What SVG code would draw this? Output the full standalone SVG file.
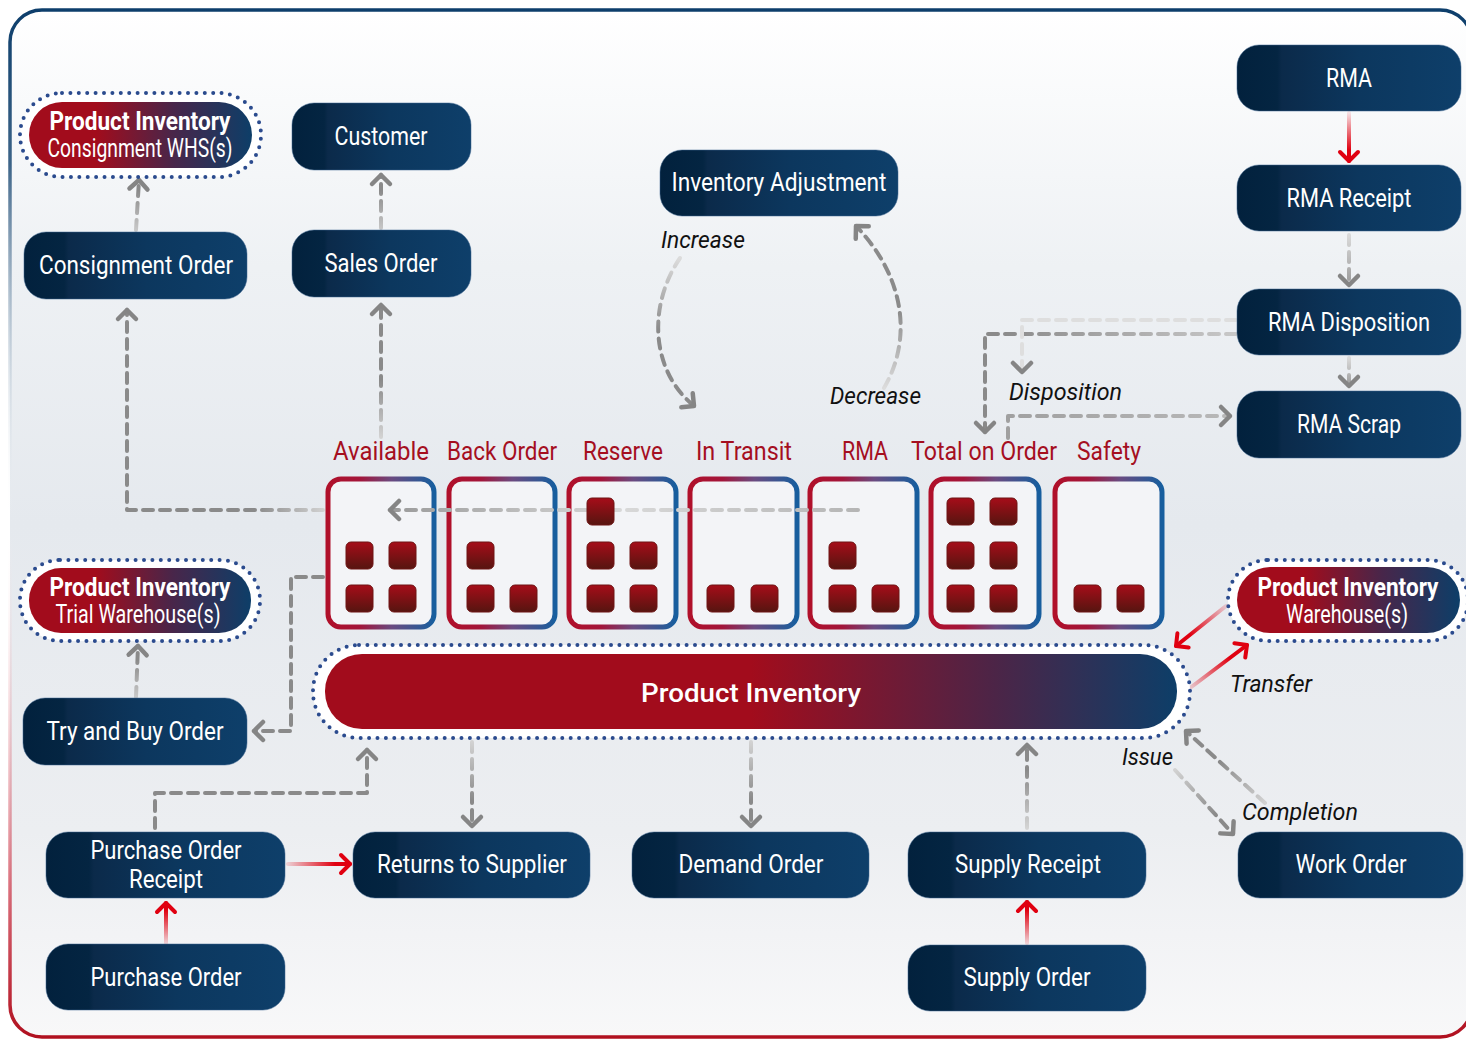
<svg xmlns="http://www.w3.org/2000/svg" width="1466" height="1039" viewBox="0 0 1466 1039">
<defs>
  <linearGradient id="bg" x1="0" y1="0" x2="0" y2="1">
    <stop offset="0" stop-color="#ffffff"/>
    <stop offset="0.25" stop-color="#eef1f4"/>
    <stop offset="0.5" stop-color="#e5e9ee"/>
    <stop offset="0.8" stop-color="#eceef1"/>
    <stop offset="1" stop-color="#f8f8f9"/>
  </linearGradient>
  <linearGradient id="frame" gradientUnits="userSpaceOnUse" x1="0" y1="10" x2="0" y2="1037">
    <stop offset="0" stop-color="#0d3e6b"/>
    <stop offset="0.15" stop-color="#0d3e6b" stop-opacity="0.8"/>
    <stop offset="0.5" stop-color="#ffffff" stop-opacity="0"/>
    <stop offset="0.85" stop-color="#c4162a" stop-opacity="0.6"/>
    <stop offset="1" stop-color="#b0101f"/>
  </linearGradient>
  <linearGradient id="nodeGrad" x1="0" y1="0" x2="1" y2="0">
    <stop offset="0" stop-color="#02213d"/>
    <stop offset="0.18" stop-color="#042542"/>
    <stop offset="0.2" stop-color="#0b2a4a"/>
    <stop offset="0.55" stop-color="#0c375e"/>
    <stop offset="1" stop-color="#0e3f6a"/>
  </linearGradient>
  <linearGradient id="pillGrad" x1="0" y1="0" x2="1" y2="0">
    <stop offset="0" stop-color="#a20c1c"/>
    <stop offset="0.3" stop-color="#a20c1c"/>
    <stop offset="0.65" stop-color="#48264a"/>
    <stop offset="1" stop-color="#0d3e68"/>
  </linearGradient>
  <linearGradient id="barGrad" x1="0" y1="0" x2="1" y2="0">
    <stop offset="0" stop-color="#a20c1c"/>
    <stop offset="0.5" stop-color="#a20c1c"/>
    <stop offset="0.78" stop-color="#4e2446"/>
    <stop offset="1" stop-color="#0d3e68"/>
  </linearGradient>
  <linearGradient id="binGrad" x1="0" y1="0" x2="1" y2="0">
    <stop offset="0" stop-color="#b0102a"/>
    <stop offset="0.3" stop-color="#a3153a"/>
    <stop offset="0.6" stop-color="#6a4a80"/>
    <stop offset="1" stop-color="#175e9e"/>
  </linearGradient>
  <linearGradient id="sqGrad" x1="0" y1="0" x2="0" y2="1">
    <stop offset="0" stop-color="#a60d19"/>
    <stop offset="1" stop-color="#561510"/>
  </linearGradient>
  <linearGradient id="fadeUp1" gradientUnits="userSpaceOnUse" x1="0" y1="437" x2="0" y2="380">
    <stop offset="0" stop-color="#d2d2d2"/><stop offset="1" stop-color="#8a8a8a"/>
  </linearGradient>
  <linearGradient id="fadeLeft1" gradientUnits="userSpaceOnUse" x1="325" y1="0" x2="255" y2="0">
    <stop offset="0" stop-color="#d2d2d2"/><stop offset="1" stop-color="#8a8a8a"/>
  </linearGradient>
  <linearGradient id="fadeRMAline" gradientUnits="userSpaceOnUse" x1="858" y1="0" x2="390" y2="0">
    <stop offset="0" stop-color="#b5b5b5"/><stop offset="0.5" stop-color="#d8d8d8"/><stop offset="1" stop-color="#9a9a9a"/>
  </linearGradient>
  <linearGradient id="fadeDown1" gradientUnits="userSpaceOnUse" x1="0" y1="742" x2="0" y2="800">
    <stop offset="0" stop-color="#d2d2d2"/><stop offset="1" stop-color="#8a8a8a"/>
  </linearGradient>
  <linearGradient id="fadeUp2" gradientUnits="userSpaceOnUse" x1="0" y1="830" x2="0" y2="770">
    <stop offset="0" stop-color="#d6d6d6"/><stop offset="1" stop-color="#8a8a8a"/>
  </linearGradient>
  <linearGradient id="fadeUp3" gradientUnits="userSpaceOnUse" x1="0" y1="230" x2="0" y2="190">
    <stop offset="0" stop-color="#c8c8c8"/><stop offset="1" stop-color="#8a8a8a"/>
  </linearGradient>
  <linearGradient id="fadeUp4" gradientUnits="userSpaceOnUse" x1="0" y1="697" x2="0" y2="660">
    <stop offset="0" stop-color="#c8c8c8"/><stop offset="1" stop-color="#8a8a8a"/>
  </linearGradient>
  <linearGradient id="fadeIssue" gradientUnits="userSpaceOnUse" x1="1175" y1="770" x2="1215" y2="815">
    <stop offset="0" stop-color="#d2d2d2"/><stop offset="1" stop-color="#8a8a8a"/>
  </linearGradient>
  <linearGradient id="fadeCompl" gradientUnits="userSpaceOnUse" x1="1265" y1="803" x2="1220" y2="762">
    <stop offset="0" stop-color="#d2d2d2"/><stop offset="1" stop-color="#8a8a8a"/>
  </linearGradient>
  <linearGradient id="fadeIncr" gradientUnits="userSpaceOnUse" x1="0" y1="258" x2="0" y2="330">
    <stop offset="0" stop-color="#dcdcdc"/><stop offset="1" stop-color="#8a8a8a"/>
  </linearGradient>
  <linearGradient id="fadeDecr" gradientUnits="userSpaceOnUse" x1="0" y1="388" x2="0" y2="310">
    <stop offset="0" stop-color="#dcdcdc"/><stop offset="1" stop-color="#8a8a8a"/>
  </linearGradient>
  <linearGradient id="fadeDisp" gradientUnits="userSpaceOnUse" x1="1236" y1="0" x2="1000" y2="0">
    <stop offset="0" stop-color="#c8c8c8"/><stop offset="1" stop-color="#8a8a8a"/>
  </linearGradient>
  <linearGradient id="fadeScrap" gradientUnits="userSpaceOnUse" x1="1008" y1="0" x2="1230" y2="0">
    <stop offset="0" stop-color="#a0a0a0"/><stop offset="1" stop-color="#b8b8b8"/>
  </linearGradient>
  <linearGradient id="fadeRmaR" gradientUnits="userSpaceOnUse" x1="0" y1="235" x2="0" y2="285">
    <stop offset="0" stop-color="#dadada"/><stop offset="1" stop-color="#9a9a9a"/>
  </linearGradient>
  <linearGradient id="fadeRmaD" gradientUnits="userSpaceOnUse" x1="0" y1="358" x2="0" y2="386">
    <stop offset="0" stop-color="#dadada"/><stop offset="1" stop-color="#9a9a9a"/>
  </linearGradient>
  <linearGradient id="redV1" gradientUnits="userSpaceOnUse" x1="0" y1="113" x2="0" y2="150">
    <stop offset="0" stop-color="#e00010" stop-opacity="0.1"/><stop offset="1" stop-color="#e00010"/>
  </linearGradient>
  <linearGradient id="redV2" gradientUnits="userSpaceOnUse" x1="0" y1="943" x2="0" y2="910">
    <stop offset="0" stop-color="#e00010" stop-opacity="0.15"/><stop offset="1" stop-color="#e00010"/>
  </linearGradient>
  <linearGradient id="redH1" gradientUnits="userSpaceOnUse" x1="288" y1="0" x2="335" y2="0">
    <stop offset="0" stop-color="#e00010" stop-opacity="0.15"/><stop offset="1" stop-color="#e00010"/>
  </linearGradient>
  <linearGradient id="redT1" gradientUnits="userSpaceOnUse" x1="1226" y1="606" x2="1190" y2="635">
    <stop offset="0" stop-color="#e00010" stop-opacity="0.15"/><stop offset="1" stop-color="#e00010"/>
  </linearGradient>
  <linearGradient id="redT2" gradientUnits="userSpaceOnUse" x1="1190" y1="688" x2="1230" y2="658">
    <stop offset="0" stop-color="#e00010" stop-opacity="0.15"/><stop offset="1" stop-color="#e00010"/>
  </linearGradient>
  <marker id="arrG" viewBox="-14 -12 18 24" markerWidth="18" markerHeight="24" refX="0" refY="0" orient="auto" markerUnits="userSpaceOnUse" style="overflow:visible">
    <path d="M-9,-9 L0,0 L-9,9" fill="none" stroke="#858585" stroke-width="4.5" stroke-linecap="round" stroke-linejoin="round"/>
  </marker>
  <marker id="arrR" viewBox="-14 -12 18 24" markerWidth="18" markerHeight="24" refX="0" refY="0" orient="auto" markerUnits="userSpaceOnUse" style="overflow:visible">
    <path d="M-9,-9 L0,0 L-9,9" fill="none" stroke="#e00010" stroke-width="4" stroke-linecap="round" stroke-linejoin="round"/>
  </marker>
  <style>
    .node rect.box { fill: url(#nodeGrad); stroke: #3e6690; stroke-width: 1; stroke-opacity: 0.5; }
    .node text { font-family: "Roboto", "Liberation Sans", sans-serif; fill: #ffffff; font-size: 25px; text-anchor: middle; }
    .dots { fill: #ffffff; stroke: #2b4b8e; stroke-width: 4; stroke-dasharray: 0 8.4; stroke-linecap: round; }
    .pill { fill: url(#pillGrad); }
    .bin { fill: #f3f4f7; stroke: url(#binGrad); stroke-width: 5; }
    .sq { fill: url(#sqGrad); stroke: #6e1414; stroke-width: 1; }
    .binlbl { font-family: "Roboto", "Liberation Sans", sans-serif; fill: #a50f1f; font-size: 25px; text-anchor: middle; }
    .lbl { font-family: "Roboto", "Liberation Sans", sans-serif; font-style: italic; fill: #111111; font-size: 24px; }
    .dash { fill: none; stroke-width: 4; stroke-dasharray: 10 7; stroke-linecap: round; stroke-linejoin: round; }
    .red { fill: none; stroke-width: 4; stroke-linecap: round; }
  </style>
</defs>

<rect x="0" y="0" width="1466" height="1039" fill="#ffffff"/>
<rect x="10" y="10" width="1462" height="1027" rx="32" fill="url(#bg)" stroke="url(#frame)" stroke-width="3.5"/>

<!-- bins -->
<g id="bins">
  <g id="bin-available">
    <rect class="bin" x="328" y="479" width="106" height="148" rx="13"/>
    <text class="binlbl" x="381" y="460" textLength="96" lengthAdjust="spacingAndGlyphs">Available</text>
  </g>
  <g id="bin-backorder">
    <rect class="bin" x="449" y="479" width="106" height="148" rx="13"/>
    <text class="binlbl" x="502" y="460" textLength="110" lengthAdjust="spacingAndGlyphs">Back Order</text>
  </g>
  <g id="bin-reserve">
    <rect class="bin" x="569" y="479" width="107" height="148" rx="13"/>
    <text class="binlbl" x="623" y="460" textLength="80" lengthAdjust="spacingAndGlyphs">Reserve</text>
  </g>
  <g id="bin-intransit">
    <rect class="bin" x="690" y="479" width="107" height="148" rx="13"/>
    <text class="binlbl" x="744" y="460" textLength="96" lengthAdjust="spacingAndGlyphs">In Transit</text>
  </g>
  <g id="bin-rma">
    <rect class="bin" x="810" y="479" width="107" height="148" rx="13"/>
    <text class="binlbl" x="865" y="460" textLength="46" lengthAdjust="spacingAndGlyphs">RMA</text>
  </g>
  <g id="bin-totalonorder">
    <rect class="bin" x="931" y="479" width="108" height="148" rx="13"/>
    <text class="binlbl" x="984" y="460" textLength="146" lengthAdjust="spacingAndGlyphs">Total on Order</text>
  </g>
  <g id="bin-safety">
    <rect class="bin" x="1055" y="479" width="107" height="148" rx="13"/>
    <text class="binlbl" x="1109" y="460" textLength="64" lengthAdjust="spacingAndGlyphs">Safety</text>
  </g>
</g>

<!-- connectors -->
<g id="connectors">
  <path class="dash" d="M858,510 H390" stroke="url(#fadeRMAline)" marker-end="url(#arrG)"/>
  <path class="dash" d="M323,510 H127 V310" stroke="url(#fadeLeft1)" marker-end="url(#arrG)"/>
  <path class="dash" d="M381,437 V305" stroke="url(#fadeUp1)" marker-end="url(#arrG)"/>
  <path class="dash" d="M381,228 V175" stroke="url(#fadeUp3)" marker-end="url(#arrG)"/>
  <path class="dash" d="M136,230 L139,180" stroke="url(#fadeUp3)" marker-end="url(#arrG)"/>
  <path class="dash" d="M136,697 L138,646" stroke="url(#fadeUp4)" marker-end="url(#arrG)"/>
  <path class="dash" d="M323,577 H291 V731 H254" stroke="#8a8a8a" marker-end="url(#arrG)"/>
  <path class="dash" d="M155,828 V793 H367 V750" stroke="#8a8a8a" marker-end="url(#arrG)"/>
  <path class="dash" d="M472,742 V826" stroke="url(#fadeDown1)" marker-end="url(#arrG)"/>
  <path class="dash" d="M751,742 V826" stroke="url(#fadeDown1)" marker-end="url(#arrG)"/>
  <path class="dash" d="M1027,828 V745" stroke="url(#fadeUp2)" marker-end="url(#arrG)"/>
  <path class="dash" d="M1175,770 L1233,834" stroke="url(#fadeIssue)" marker-end="url(#arrG)"/>
  <path class="dash" d="M1265,803 L1186,731" stroke="url(#fadeCompl)" marker-end="url(#arrG)"/>
  <path class="dash" d="M680,258 C648,305 650,370 694,406" stroke="url(#fadeIncr)" marker-end="url(#arrG)"/>
  <path class="dash" d="M884,388 C912,340 906,278 856,226" stroke="url(#fadeDecr)" marker-end="url(#arrG)"/>
  <path class="dash" d="M1236,334 H985 V432" stroke="url(#fadeDisp)" marker-end="url(#arrG)"/>
  <path class="dash" d="M1236,320 H1022 V372" stroke="#dedede" marker-end="url(#arrG)"/>
  <path class="dash" d="M1008,438 V416 H1230" stroke="url(#fadeScrap)" marker-end="url(#arrG)"/>
  <path class="dash" d="M1349,235 V285" stroke="url(#fadeRmaR)" marker-end="url(#arrG)"/>
  <path class="dash" d="M1349,358 V386" stroke="url(#fadeRmaD)" marker-end="url(#arrG)"/>
  <path class="red" d="M1349,113 V161" stroke="url(#redV1)" marker-end="url(#arrR)"/>
  <path class="red" d="M166,943 V903" stroke="url(#redV2)" marker-end="url(#arrR)"/>
  <path class="red" d="M288,864 H350" stroke="url(#redH1)" marker-end="url(#arrR)"/>
  <path class="red" d="M1027,943 V902" stroke="url(#redV2)" marker-end="url(#arrR)"/>
  <path class="red" d="M1226,606 L1176,646" stroke="url(#redT1)" marker-end="url(#arrR)"/>
  <path class="red" d="M1190,688 L1247,645" stroke="url(#redT2)" marker-end="url(#arrR)"/>
</g>

<!-- stock units inside bins (drawn above the connector that crosses the bins) -->
<g id="bin-units">
  <rect class="sq" x="346" y="542" width="27" height="27" rx="5"/>
  <rect class="sq" x="389" y="542" width="27" height="27" rx="5"/>
  <rect class="sq" x="346" y="585" width="27" height="27" rx="5"/>
  <rect class="sq" x="389" y="585" width="27" height="27" rx="5"/>
  <rect class="sq" x="467" y="542" width="27" height="27" rx="5"/>
  <rect class="sq" x="467" y="585" width="27" height="27" rx="5"/>
  <rect class="sq" x="510" y="585" width="27" height="27" rx="5"/>
  <rect class="sq" x="587" y="498" width="27" height="27" rx="5"/>
  <rect class="sq" x="587" y="542" width="27" height="27" rx="5"/>
  <rect class="sq" x="630" y="542" width="27" height="27" rx="5"/>
  <rect class="sq" x="587" y="585" width="27" height="27" rx="5"/>
  <rect class="sq" x="630" y="585" width="27" height="27" rx="5"/>
  <rect class="sq" x="707" y="585" width="27" height="27" rx="5"/>
  <rect class="sq" x="751" y="585" width="27" height="27" rx="5"/>
  <rect class="sq" x="829" y="542" width="27" height="27" rx="5"/>
  <rect class="sq" x="829" y="585" width="27" height="27" rx="5"/>
  <rect class="sq" x="872" y="585" width="27" height="27" rx="5"/>
  <rect class="sq" x="947" y="498" width="27" height="27" rx="5"/>
  <rect class="sq" x="990" y="498" width="27" height="27" rx="5"/>
  <rect class="sq" x="947" y="542" width="27" height="27" rx="5"/>
  <rect class="sq" x="990" y="542" width="27" height="27" rx="5"/>
  <rect class="sq" x="947" y="585" width="27" height="27" rx="5"/>
  <rect class="sq" x="990" y="585" width="27" height="27" rx="5"/>
  <rect class="sq" x="1074" y="585" width="27" height="27" rx="5"/>
  <rect class="sq" x="1117" y="585" width="27" height="27" rx="5"/>
</g>

<!-- connector labels -->
<g id="labels">
  <text class="lbl" x="661" y="248" textLength="84" lengthAdjust="spacingAndGlyphs">Increase</text>
  <text class="lbl" x="830" y="404" textLength="91" lengthAdjust="spacingAndGlyphs">Decrease</text>
  <text class="lbl" x="1009" y="400" textLength="113" lengthAdjust="spacingAndGlyphs">Disposition</text>
  <text class="lbl" x="1230" y="692" textLength="82" lengthAdjust="spacingAndGlyphs">Transfer</text>
  <text class="lbl" x="1122" y="765" textLength="51" lengthAdjust="spacingAndGlyphs">Issue</text>
  <text class="lbl" x="1242" y="820" textLength="116" lengthAdjust="spacingAndGlyphs">Completion</text>
</g>

<!-- nodes -->
<g id="node-pi-consignment" class="node">
  <rect class="dots" x="20" y="93" width="241" height="84" rx="42"/>
  <rect class="pill" x="29" y="102" width="223" height="66" rx="33"/>
  <text x="140" y="130" font-weight="bold" font-size="25" textLength="181" lengthAdjust="spacingAndGlyphs">Product Inventory</text>
  <text x="140" y="157" font-size="21" textLength="185" lengthAdjust="spacingAndGlyphs">Consignment WHS(s)</text>
</g>
<g id="node-customer" class="node">
  <rect class="box" x="292" y="103" width="179" height="67" rx="22"/>
  <text x="381" y="145" textLength="93" lengthAdjust="spacingAndGlyphs">Customer</text>
</g>
<g id="node-consignment-order" class="node">
  <rect class="box" x="24" y="232" width="223" height="67" rx="22"/>
  <text x="136" y="274" textLength="194" lengthAdjust="spacingAndGlyphs">Consignment Order</text>
</g>
<g id="node-sales-order" class="node">
  <rect class="box" x="292" y="230" width="179" height="67" rx="22"/>
  <text x="381" y="272" textLength="113" lengthAdjust="spacingAndGlyphs">Sales Order</text>
</g>
<g id="node-inventory-adjustment" class="node">
  <rect class="box" x="660" y="150" width="238" height="66" rx="22"/>
  <text x="779" y="191" textLength="215" lengthAdjust="spacingAndGlyphs">Inventory Adjustment</text>
</g>
<g id="node-rma" class="node">
  <rect class="box" x="1237" y="45" width="224" height="66" rx="22"/>
  <text x="1349" y="87" textLength="46" lengthAdjust="spacingAndGlyphs">RMA</text>
</g>
<g id="node-rma-receipt" class="node">
  <rect class="box" x="1237" y="165" width="224" height="66" rx="22"/>
  <text x="1349" y="207" textLength="125" lengthAdjust="spacingAndGlyphs">RMA Receipt</text>
</g>
<g id="node-rma-disposition" class="node">
  <rect class="box" x="1237" y="289" width="224" height="66" rx="22"/>
  <text x="1349" y="331" textLength="162" lengthAdjust="spacingAndGlyphs">RMA Disposition</text>
</g>
<g id="node-rma-scrap" class="node">
  <rect class="box" x="1237" y="391" width="224" height="67" rx="22"/>
  <text x="1349" y="433" textLength="104" lengthAdjust="spacingAndGlyphs">RMA Scrap</text>
</g>
<g id="node-pi-trial" class="node">
  <rect class="dots" x="20" y="560" width="240" height="81" rx="40"/>
  <rect class="pill" x="29" y="568" width="222" height="65" rx="32"/>
  <text x="140" y="596" font-weight="bold" font-size="25" textLength="181" lengthAdjust="spacingAndGlyphs">Product Inventory</text>
  <text x="138" y="623" font-size="21" textLength="165" lengthAdjust="spacingAndGlyphs">Trial Warehouse(s)</text>
</g>
<g id="node-try-buy" class="node">
  <rect class="box" x="23" y="698" width="224" height="67" rx="22"/>
  <text x="135" y="740" textLength="177" lengthAdjust="spacingAndGlyphs">Try and Buy Order</text>
</g>
<g id="node-product-inventory" class="node">
  <rect class="dots" x="313" y="645" width="877" height="93" rx="46"/>
  <rect x="325" y="654" width="852" height="75" rx="37" fill="url(#barGrad)"/>
  <text x="751" y="702" font-size="29" font-weight="500" textLength="220" lengthAdjust="spacingAndGlyphs">Product Inventory</text>
</g>
<g id="node-pi-warehouse" class="node">
  <rect class="dots" x="1228" y="560" width="240" height="81" rx="40"/>
  <rect class="pill" x="1237" y="567" width="223" height="66" rx="33"/>
  <text x="1348" y="596" font-weight="bold" font-size="25" textLength="181" lengthAdjust="spacingAndGlyphs">Product Inventory</text>
  <text x="1347" y="623" font-size="21" textLength="122" lengthAdjust="spacingAndGlyphs">Warehouse(s)</text>
</g>
<g id="node-po-receipt" class="node">
  <rect class="box" x="46" y="832" width="239" height="66" rx="22"/>
  <text x="166" y="859" textLength="151" lengthAdjust="spacingAndGlyphs">Purchase Order</text>
  <text x="166" y="888" textLength="74" lengthAdjust="spacingAndGlyphs">Receipt</text>
</g>
<g id="node-purchase-order" class="node">
  <rect class="box" x="46" y="944" width="239" height="66" rx="22"/>
  <text x="166" y="986" textLength="151" lengthAdjust="spacingAndGlyphs">Purchase Order</text>
</g>
<g id="node-returns" class="node">
  <rect class="box" x="353" y="832" width="237" height="66" rx="22"/>
  <text x="472" y="873" textLength="190" lengthAdjust="spacingAndGlyphs">Returns to Supplier</text>
</g>
<g id="node-demand" class="node">
  <rect class="box" x="632" y="832" width="237" height="66" rx="22"/>
  <text x="751" y="873" textLength="145" lengthAdjust="spacingAndGlyphs">Demand Order</text>
</g>
<g id="node-supply-receipt" class="node">
  <rect class="box" x="908" y="832" width="238" height="66" rx="22"/>
  <text x="1028" y="873" textLength="146" lengthAdjust="spacingAndGlyphs">Supply Receipt</text>
</g>
<g id="node-supply-order" class="node">
  <rect class="box" x="908" y="945" width="238" height="66" rx="22"/>
  <text x="1027" y="986" textLength="127" lengthAdjust="spacingAndGlyphs">Supply Order</text>
</g>
<g id="node-work-order" class="node">
  <rect class="box" x="1238" y="832" width="225" height="66" rx="22"/>
  <text x="1351" y="873" textLength="111" lengthAdjust="spacingAndGlyphs">Work Order</text>
</g>
</svg>
